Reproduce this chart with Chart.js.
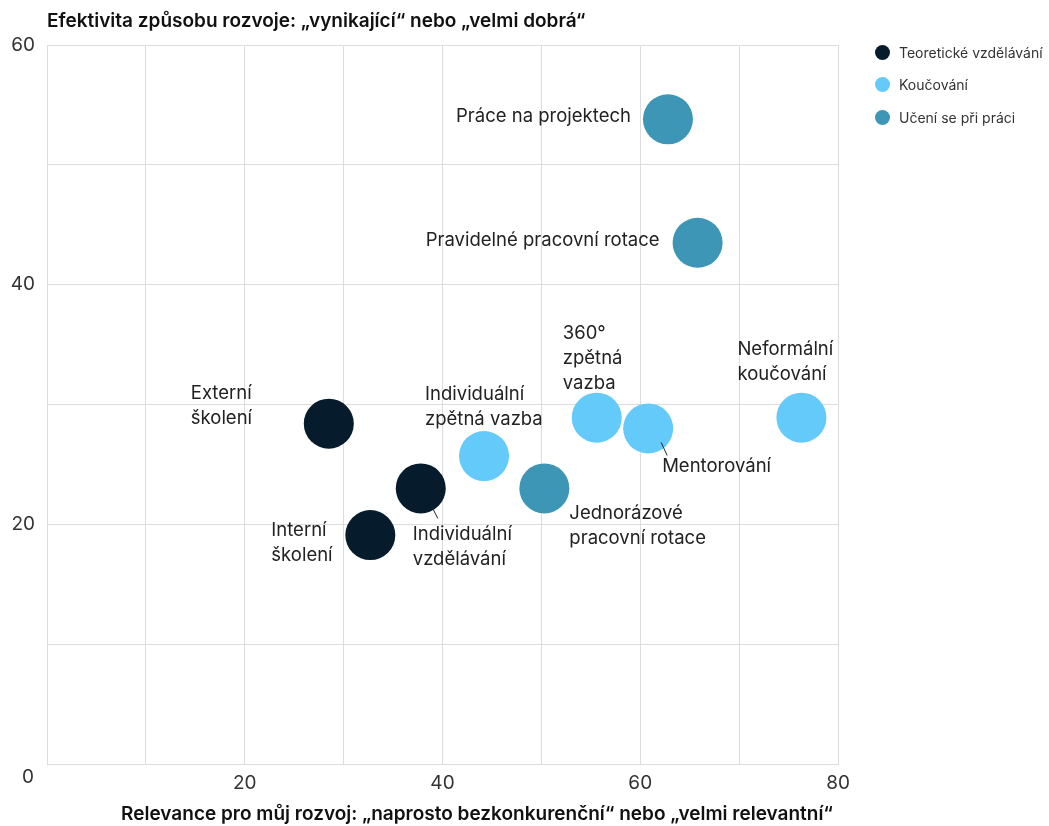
<!DOCTYPE html>
<html lang="cs">
<head>
<meta charset="utf-8">
<title>Efektivita způsobu rozvoje</title>
<script src="https://cdn.jsdelivr.net/npm/chart.js@4.4.1/dist/chart.umd.min.js"></script>
<style>
  html, body { margin: 0; padding: 0; background: #fff; }
  #wrap { position: relative; width: 1049px; height: 826px; }
  #legend { position: absolute; left: 875px; top: 42px; font-family: Inter, sans-serif; font-size: 14px; color: #333; }
  #legend div { display: flex; align-items: center; height: 20px; margin-bottom: 12.5px; white-space: nowrap; }
  #legend span.dot { display: inline-block; width: 15px; height: 15px; border-radius: 50%; margin-right: 9px; }
</style>
</head>
<body>
<div id="wrap">
  <canvas id="chart" width="1049" height="826"></canvas>
  <div id="legend"></div>
</div>
<script>
// series
const seriesNames = ['Teoretické vzdělávání', 'Koučování', 'Učení se při práci'];
const seriesColors = ['#061C2C', '#63CAF9', '#3D96B5'];

// Teoretické vzdělávání
const theoryLabels = [['Externí', 'školení'], ['Interní', 'školení'], ['Individuální', 'vzdělávání']];
const theoryX = [28.5, 32.7, 37.8];
const theoryY = [28.4, 19.1, 23.0];

// Koučování
const coachingLabels = [['Individuální', 'zpětná vazba'], ['360°', 'zpětná', 'vazba'], ['Mentorování'], ['Neformální', 'koučování']];
const coachingX = [44.2, 55.6, 60.8, 76.3];
const coachingY = [25.7, 28.9, 28.0, 28.9];

// Učení se při práci
const onJobLabels = [['Jednorázové', 'pracovní rotace'], ['Práce na projektech'], ['Pravidelné pracovní rotace']];
const onJobX = [50.3, 62.8, 65.8];
const onJobY = [23.0, 53.8, 43.5];

const yTitle = 'Efektivita způsobu rozvoje: „vynikající“ nebo „velmi dobrá“';
const xTitle = 'Relevance pro můj rozvoj: „naprosto bezkonkurenční“ nebo „velmi relevantní“';

// where each label sits relative to its bubble (px), per series
const labelPlacement = [
  [
    { dx: -138, dy: -30, align: 'left' },
    { dx: -99, dy: -5, align: 'left' },
    { dx: -8, dy: 46, align: 'left', leader: [11, 18, 17, 30] }
  ],
  [
    { dx: -59, dy: -62, align: 'left' },
    { dx: -34, dy: -84, align: 'left' },
    { dx: 14, dy: 38, align: 'left', leader: [13, 14, 19, 27] },
    { dx: -64, dy: -68, align: 'left' }
  ],
  [
    { dx: 25, dy: 25, align: 'left' },
    { dx: -37, dy: -3, align: 'right' },
    { dx: -38, dy: -2, align: 'right' }
  ]
];

const FONT = 'Inter, sans-serif';
const GRID = '#dcdcdc';

function toPoints(xs, ys, names) {
  return xs.map((x, i) => ({ x: x, y: ys[i], name: names[i] }));
}

const datasets = [
  toPoints(theoryX, theoryY, theoryLabels),
  toPoints(coachingX, coachingY, coachingLabels),
  toPoints(onJobX, onJobY, onJobLabels)
].map((data, i) => ({
  label: seriesNames[i],
  data: data,
  backgroundColor: seriesColors[i],
  borderWidth: 0,
  pointRadius: 25,
  pointHoverRadius: 25
}));

// bubble labels, leader lines, axis titles and the shared origin "0"
const annotations = {
  id: 'annotations',
  afterDatasetsDraw(chart) {
    const { ctx, chartArea } = chart;
    ctx.save();
    ctx.fillStyle = '#222';
    ctx.strokeStyle = '#222';
    ctx.lineWidth = 1;
    ctx.font = '18.5px ' + FONT;
    ctx.textBaseline = 'middle';
    chart.data.datasets.forEach((ds, di) => {
      const meta = chart.getDatasetMeta(di);
      meta.data.forEach((el, i) => {
        const p = labelPlacement[di][i];
        ctx.textAlign = p.align;
        ds.data[i].name.forEach((line, li) => {
          ctx.fillText(line, el.x + p.dx, el.y + p.dy + li * 25);
        });
        if (p.leader) {
          ctx.beginPath();
          ctx.moveTo(el.x + p.leader[0], el.y + p.leader[1]);
          ctx.lineTo(el.x + p.leader[2], el.y + p.leader[3]);
          ctx.stroke();
        }
      });
    });

    ctx.fillStyle = '#111';
    ctx.font = '600 19px ' + FONT;
    ctx.textAlign = 'left';
    ctx.fillText(yTitle, chartArea.left, 21);
    ctx.textAlign = 'right';
    ctx.fillText(xTitle, chartArea.right - 5, 814);

    ctx.fillStyle = '#333';
    ctx.font = '19px ' + FONT;
    ctx.textAlign = 'center';
    ctx.fillText('0', 28, 777);
    ctx.restore();
  }
};

const tickLabel = v => (v % 20 === 0 && v !== 0) ? v : '';

new Chart(document.getElementById('chart'), {
  type: 'scatter',
  data: { datasets: datasets },
  options: {
    responsive: false,
    animation: false,
    layout: { padding: { top: 45, right: 211, bottom: 0, left: 0 } },
    plugins: {
      legend: { display: false },
      tooltip: { enabled: false }
    },
    scales: {
      x: {
        min: 0,
        max: 80,
        afterFit(scale) { scale.height = 62; },
        border: { color: GRID },
        grid: { color: GRID, drawTicks: false },
        ticks: {
          stepSize: 10,
          autoSkip: false,
          maxRotation: 0,
          padding: 8,
          color: '#333',
          font: { family: FONT, size: 19 },
          callback: tickLabel
        }
      },
      y: {
        min: 0,
        max: 60,
        afterFit(scale) { scale.width = 47; },
        border: { color: GRID },
        grid: { color: GRID, drawTicks: false },
        ticks: {
          stepSize: 10,
          autoSkip: false,
          padding: 12,
          color: '#333',
          font: { family: FONT, size: 19 },
          callback: tickLabel
        }
      }
    }
  },
  plugins: [annotations]
});

// legend built from the series arrays
document.getElementById('legend').innerHTML = seriesNames
  .map((n, i) => '<div><span class="dot" style="background:' + seriesColors[i] + '"></span>' + n + '</div>')
  .join('');
</script>
</body>
</html>
